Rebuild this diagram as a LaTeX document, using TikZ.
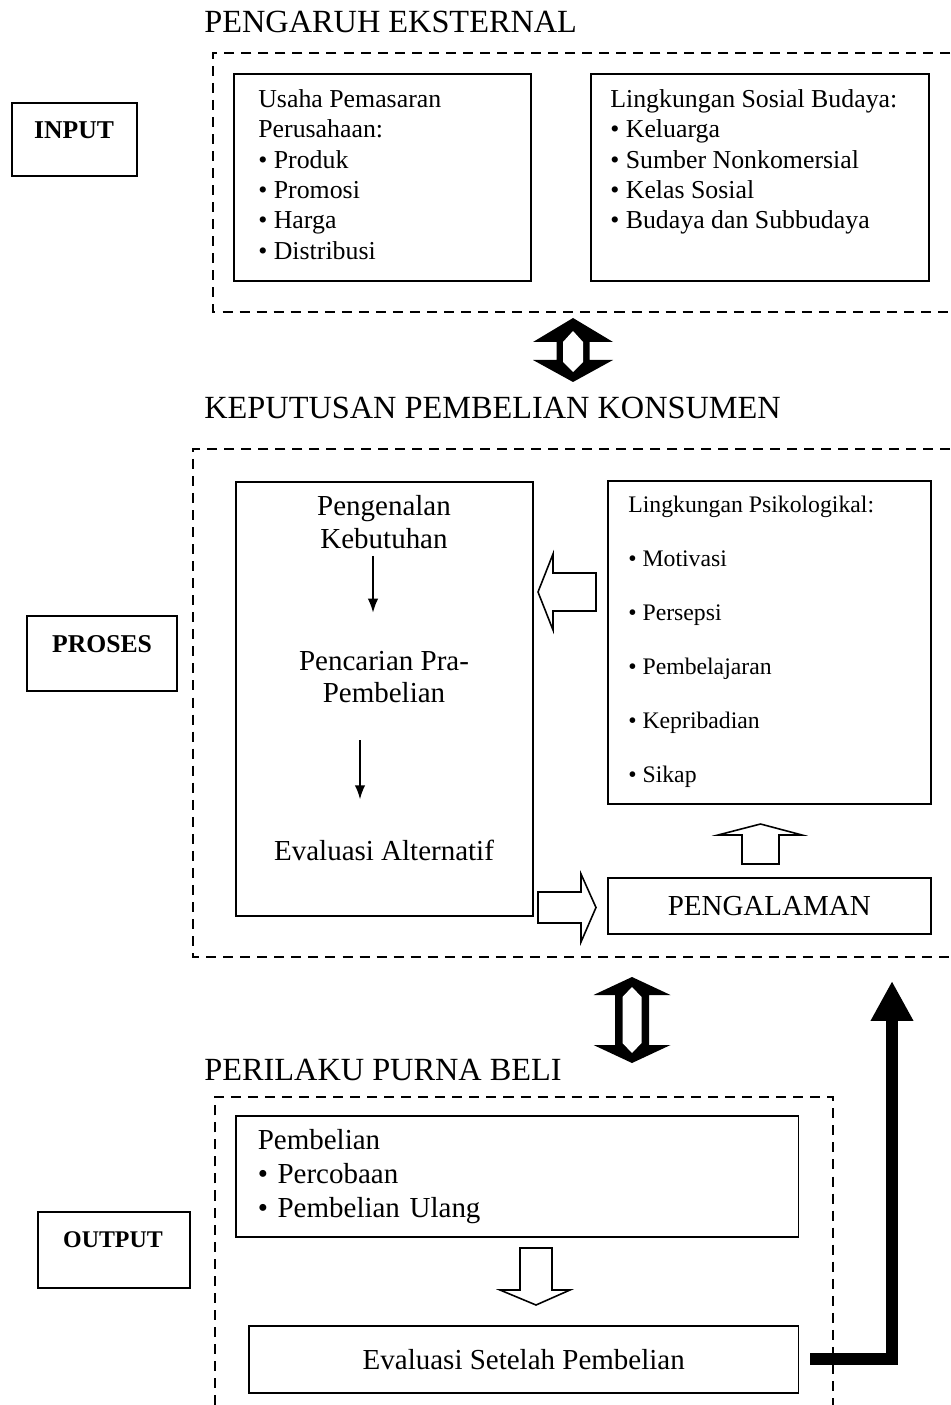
\documentclass[tikz,border=0pt]{standalone}
\usepackage{fontspec}
\setmainfont{Liberation Serif}
\usetikzlibrary{arrows.meta,positioning,calc}

\tikzset{
  judul/.style={font=\fontsize{18.4pt}{21pt}\selectfont, inner sep=0pt, anchor=west},
  teks/.style={font=\fontsize{14.7pt}{17.3pt}\selectfont, inner sep=0pt, align=left},
  teksbesar/.style={font=\fontsize{16.5pt}{18.5pt}\selectfont, inner sep=0pt, align=center},
  tekskecil/.style={font=\fontsize{13.5pt}{30.7pt}\selectfont, inner sep=0pt, align=left},
  tebal/.style={font={\bfseries\fontsize{14.6pt}{17pt}\selectfont}, inner sep=0pt},
  kotak/.style={draw, line width=0.9pt, inner sep=0pt},
  bingkai/.style={line width=1.1pt, dash pattern=on 5.7pt off 4pt},
  blok/.style={draw, line width=0.9pt, fill=white, line join=miter},
  panahtipis/.style={line width=0.9pt, -{Latex[length=8pt,width=6pt]}},
  panahtebal/.style={line width=6.8pt, -{Triangle[length=22.7pt,width=22.7pt]}}
}

\begin{document}
\begin{tikzpicture}[x=0.02cm, y=-0.02cm]
\useasboundingbox (0,0) rectangle (950,1405);

% Bingkai putus-putus
\draw[bingkai] (950,53) -- (213,53) -- (213,312) -- (950,312);
\draw[bingkai] (950,449) -- (193,449) -- (193,957) -- (950,957);
\draw[bingkai] (215,1405) -- (215,1097) -- (833,1097) -- (833,1405);

% Judul
\node[judul] (jdlluar) at (204,22) {PENGARUH EKSTERNAL};
\node[judul] (jdlputus) at (204,408) {KEPUTUSAN PEMBELIAN KONSUMEN};
\node[judul] (jdlpurna) at (204,1070) {PERILAKU PURNA BELI};

% Kotak label kiri
\node[kotak, minimum width=2.5cm, minimum height=1.46cm] (input) at (74.5,139.5) {};
\node[tebal] (inputteks) at (74,130) {INPUT};
\node[kotak, minimum width=3cm, minimum height=1.5cm] (proses) at (102,653.5) {};
\node[tebal] (prosesteks) at (102,644) {PROSES};
\node[kotak, minimum width=3.04cm, minimum height=1.52cm] (output) at (114,1250) {};
\node[tebal, font={\bfseries\fontsize{13.6pt}{16pt}\selectfont}] (outputteks) at (113,1240) {OUTPUT};

% Pengaruh eksternal
\node[kotak, anchor=north west, minimum width=5.94cm, minimum height=4.14cm] (usaha) at (233,73) {};
\node[teks, below right=0.32cm and 0.5cm of usaha.north west] (usahateks)
  {Usaha Pemasaran\\Perusahaan:\\\textbullet\ Produk\\\textbullet\ Promosi\\\textbullet\ Harga\\\textbullet\ Distribusi};
\node[kotak, anchor=north west, minimum width=6.76cm, minimum height=4.14cm] (sosbud) at (590,73) {};
\node[teks, below right=0.32cm and 0.4cm of sosbud.north west] (sosbudteks)
  {Lingkungan Sosial Budaya:\\\textbullet\ Keluarga\\\textbullet\ Sumber Nonkomersial\\\textbullet\ Kelas Sosial\\\textbullet\ Budaya dan Subbudaya};

% Panah ganda atas
\fill (573,318) -- (613,342) -- (589.5,342) -- (589.5,360) -- (613,360) -- (573,382)
  -- (533,360) -- (556.5,360) -- (556.5,342) -- (533,342) -- cycle;
\fill[white] (573,331) -- (583,342) -- (583,362) -- (573,372) -- (563,362) -- (563,342) -- cycle;

% Proses keputusan
\node[kotak, anchor=north west, minimum width=5.94cm, minimum height=8.68cm] (tahap) at (235,481) {};
\node[teksbesar] (kebutuhan) at (384,522) {Pengenalan\\Kebutuhan};
\node[teksbesar] (pencarian) at (384,677) {Pencarian Pra-\\Pembelian};
\node[teksbesar] (alternatif) at (384,850) {Evaluasi Alternatif};
\draw[panahtipis, shorten <=0.14cm, shorten >=0.76cm] ([xshift=-0.22cm]kebutuhan.south) -- ([xshift=-0.22cm]pencarian.north);
\draw[panahtipis, shorten <=0.74cm, shorten >=0.8cm] ([xshift=-0.48cm]pencarian.south) -- ([xshift=-0.48cm]alternatif.north);

\node[kotak, anchor=north west, minimum width=6.46cm, minimum height=6.46cm] (psiko) at (607,480) {};
\node[tekskecil, below right=0.32cm and 0.42cm of psiko.north west] (psikoteks)
  {Lingkungan Psikologikal:\\\textbullet\ Motivasi\\\textbullet\ Persepsi\\\textbullet\ Pembelajaran\\\textbullet\ Kepribadian\\\textbullet\ Sikap};
\node[kotak, teksbesar, anchor=north west, minimum width=6.46cm, minimum height=1.12cm] (pengalaman) at (607,877) {PENGALAMAN};

% Panah blok
\draw[blok] (596,573) -- (553,573) -- (553,554) -- (538,592) -- (553,630) -- (553,611) -- (596,611) -- cycle;
\draw[blok] (538,892) -- (581,892) -- (581,874) -- (596,907.5) -- (581,942) -- (581,923) -- (538,923) -- cycle;
\draw[blok] (742,864) -- (742,835) -- (718,835) -- (760.5,824) -- (802,835) -- (779,835) -- (779,864) -- cycle;

% Panah ganda bawah
\fill (632,977) -- (670.5,995) -- (649,995) -- (649,1045) -- (670.5,1045) -- (632,1063)
  -- (593.5,1045) -- (615,1045) -- (615,995) -- (593.5,995) -- cycle;
\fill[white] (632,987) -- (641.5,997) -- (641.5,1043) -- (632,1053) -- (622.5,1043) -- (622.5,997) -- cycle;

% Perilaku purna beli
\node[kotak, teksbesar, anchor=north west, minimum width=11.26cm, minimum height=2.42cm,
  inner xsep=0.44cm, text width=10.38cm, align=left, font=\fontsize{16.5pt}{19.3pt}\selectfont] (beli) at (235,1115)
  {Pembelian\\\textbullet\ Percobaan\\\textbullet\ Pembelian Ulang};
\node[kotak, teksbesar, anchor=north west, minimum width=11cm, minimum height=1.34cm] (evalbeli) at (248,1325) {Evaluasi Setelah Pembelian};
\draw[blok] (520,1248) -- (520,1290) -- (500,1290) -- (536,1305) -- (570,1290) -- (552,1290) -- (552,1248) -- cycle;

% Umpan balik
\coordinate (ujung) at (892,981);
\draw[panahtebal] ([xshift=0.22cm]evalbeli.east) -| (ujung);
\end{tikzpicture}
\end{document}
